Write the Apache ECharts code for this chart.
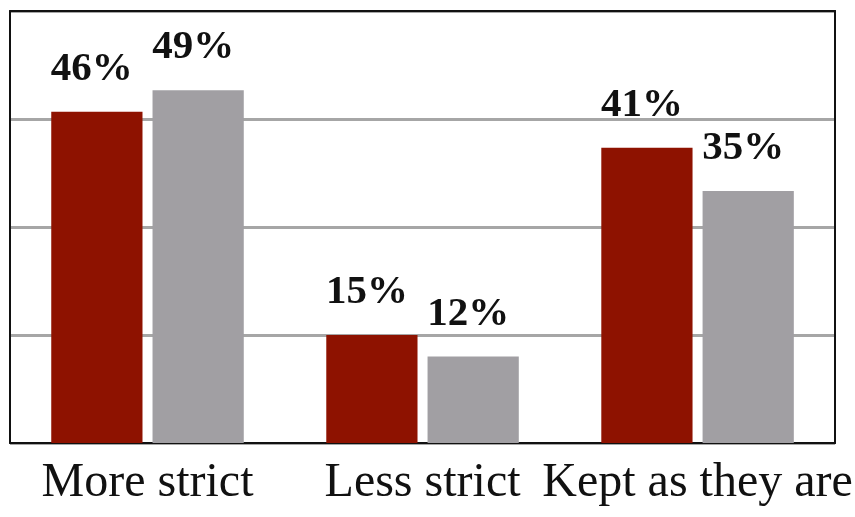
<!DOCTYPE html>
<html>
<head>
<meta charset="utf-8">
<script src="https://cdn.jsdelivr.net/npm/echarts@6/dist/echarts.min.js"></script>
<style>html,body{margin:0;padding:0;background:#fff;}#c{width:855px;height:517px;}</style>
</head>
<body>
<div id="c"></div>
<script>
var categories = ['More strict', 'Less strict', 'Kept as they are'];
var seriesA = [46, 15, 41];
var seriesB = [49, 12, 35];
var yMin = 0, yMax = 60, yInterval = 15;

var chart = echarts.init(document.getElementById('c'));
var labelStyle = {
  show: true, position: 'top', distance: 22, offset: [-5, 0],
  formatter: '{c}%', color: '#111', fontFamily: 'Liberation Serif',
  fontWeight: 'bold', fontSize: 41
};
var frameLine = { show: true, onZero: false, lineStyle: { color: '#111', width: 2 } };
chart.setOption({
  animation: false,
  grid: { left: 10, right: 15, top: 11, bottom: 74, show: false },
  xAxis: [{
    type: 'category', data: categories,
    axisLine: frameLine,
    axisTick: { show: false },
    axisLabel: { color: '#111', fontFamily: 'Liberation Serif', fontSize: 48, margin: 16, interval: 0 }
  }, {
    type: 'category', data: categories, position: 'top',
    axisLine: frameLine, axisTick: { show: false }, axisLabel: { show: false }, splitLine: { show: false }
  }],
  yAxis: [{
    type: 'value', min: yMin, max: yMax, interval: yInterval,
    axisLabel: { show: false }, axisLine: frameLine, axisTick: { show: false },
    splitLine: { show: true, lineStyle: { color: '#a6a6a6', width: 3 } }
  }, {
    type: 'value', min: yMin, max: yMax, interval: yInterval, position: 'right',
    axisLabel: { show: false }, axisLine: frameLine, axisTick: { show: false }, splitLine: { show: false }
  }],
  series: [
    { type: 'bar', data: seriesA, barGap: '11%', barCategoryGap: '30%', itemStyle: { color: '#8e1200' }, label: labelStyle },
    { type: 'bar', data: seriesB, barGap: '11%', barCategoryGap: '30%', itemStyle: { color: '#a19fa3' }, label: labelStyle }
  ]
});
</script>
</body>
</html>
